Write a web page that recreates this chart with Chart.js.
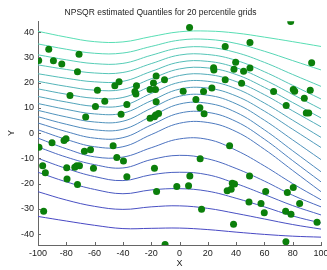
<!DOCTYPE html>
<html>
<head>
<meta charset="utf-8">
<script src="https://cdn.jsdelivr.net/npm/chart.js@4.4.1/dist/chart.umd.min.js"></script>
<style>
  html, body { margin: 0; padding: 0; background: #fff; }
  #wrap { width: 327px; height: 270px; }
</style>
</head>
<body>
<div id="wrap"><canvas id="quantChart" width="327" height="270"></canvas></div>
<script>
const xGrid = [-100, -80, -60, -40, -20, 0, 20, 40, 60, 80, 100];

// 19 quantile curves, top (highest) first
const quantileCurves = [
    [40.3, 38.0, 36.2, 36.1, 38.2, 40.1, 40.4, 39.6, 38.0, 36.2, 34.3],
    [35.3, 33.2, 31.6, 31.7, 34.3, 36.8, 37.1, 35.5, 32.4, 28.7, 25.0],
    [31.0, 29.0, 27.5, 27.6, 30.8, 33.7, 34.0, 31.9, 28.0, 23.2, 18.5],
    [27.0, 25.2, 23.8, 24.0, 27.5, 30.9, 31.1, 28.8, 24.3, 18.9, 13.5],
    [23.5, 21.7, 20.3, 20.5, 24.4, 28.1, 28.4, 25.9, 21.1, 15.3, 9.5],
    [20.5, 18.5, 17.0, 17.3, 21.5, 25.4, 25.8, 23.2, 18.1, 12.1, 6.0],
    [17.5, 15.4, 13.8, 14.1, 18.6, 22.8, 23.2, 20.4, 15.2, 8.8, 2.5],
    [14.5, 12.3, 10.6, 10.9, 15.7, 20.1, 20.5, 17.6, 11.9, 5.1, -1.7],
    [11.7, 9.4, 7.6, 7.9, 12.8, 17.4, 17.8, 14.7, 8.7, 1.5, -5.7],
    [9.0, 6.4, 4.4, 4.7, 9.8, 14.6, 15.0, 11.6, 5.1, -2.7, -10.5],
    [6.5, 3.5, 1.3, 1.5, 6.6, 11.5, 11.8, 8.2, 1.3, -7.0, -15.3],
    [4.0, 0.6, -2.0, -1.8, 3.2, 7.9, 8.2, 4.6, -2.4, -10.9, -19.3],
    [1.3, -2.5, -5.4, -5.4, -0.6, 3.9, 4.2, 0.6, -6.4, -14.8, -23.2],
    [-2.0, -6.2, -9.4, -9.5, -5.8, -2.3, -2.5, -6.8, -13.0, -20.0, -26.4],
    [-5.5, -9.5, -12.5, -13.8, -10.5, -8.8, -10.2, -14.0, -19.0, -24.6, -29.2],
    [-10.0, -14.0, -17.2, -18.8, -16.5, -15.5, -16.5, -20.0, -24.3, -28.7, -32.4],
    [-15.5, -19.3, -22.3, -24.0, -22.5, -22.0, -23.0, -25.8, -29.2, -32.8, -35.6],
    [-23.2, -26.5, -29.0, -30.2, -29.2, -28.8, -29.8, -31.8, -34.0, -36.2, -38.0],
    [-33.0, -34.8, -36.5, -37.8, -37.7, -37.6, -38.2, -39.2, -40.1, -40.8, -41.2]
];

// observed sample points
const dotX = [
    -99.5, -92.4, -89.1, -83.2, -71.0, -72.1, -77.4, -58.0, -59.4, -52.8,
    -66.3, -45.7, -42.7, -41.3, -37.2, -30.4, -31.5, -30.8, -20.8, -18.4,
    -16.5, -17.0, -10.6, -16.5, -20.8, -17.7, -16.8, -14.8, 2.6, 7.1,
    11.6, 14.4, 17.4, 17.0, 22.9, 24.1, 24.3, 32.3, 32.3, 39.7,
    38.5, 43.9, 45.3, 49.8, 49.8, 66.5, 75.4, 78.6, 80.4, 81.4,
    88.2, 93.4, 92.4, 89.6, 91.3,
    -99.3, -90.1, -81.6, -80.2, -96.7, -94.8, -79.7, -79.5, -74.0, -72.6,
    -70.7, -72.1, -67.2, -62.9, -60.8, -46.9, -44.3, -39.6, -37.2, -96.0,
    -17.7, -16.2, -1.9, 6.4, 7.3, 14.6, 15.6, -10.2, 35.4, 33.7,
    36.5, 37.3, 38.9, 38.2, 49.5, 49.1, 57.6, 59.9, 60.9, 75.0,
    76.2, 78.8, 80.4, 84.9, 97.2, 75.2
];
const dotY = [
    28.7, 33.2, 28.6, 27.4, 31.2, 24.3, 14.9, 17.0, 10.5, 12.6,
    6.4, 18.7, 20.3, 7.5, 11.3, 18.7, 16.5, 15.5, 17.3, 19.8,
    22.6, 17.3, 21.1, 12.4, 5.9, 6.5, 7.2, 7.8, 16.6, 41.8,
    13.3, 10.0, 7.7, 16.5, 17.9, 25.9, 25.0, 34.3, 21.1, 28.0,
    25.3, 19.7, 24.5, 35.9, 25.8, 16.5, 10.9, 44.2, 17.3, 16.6,
    13.8, 27.9, 17.0, 8.0, 8.0,
    -5.6, -3.8, -2.9, -2.2, -12.9, -15.7, -13.7, -18.2, -13.5, -12.9,
    -12.9, -20.3, -7.2, -6.6, -13.9, -5.0, -9.7, -11.0, -17.3, -30.9,
    -13.9, -23.1, -21.1, -20.8, -17.0, -10.2, -30.1, -44.1, -5.0, -22.8,
    -22.2, -19.9, -20.2, -36.1, -17.0, -27.3, -27.9, -31.5, -23.1, -30.9,
    -23.5, -32.1, -21.5, -27.9, -35.3, -43.0
];

const xTicks = [-100, -80, -60, -40, -20, 0, 20, 40, 60, 80, 100];
const yTicks = [-40, -30, -20, -10, 0, 10, 20, 30, 40];

// winter-like colour ramp: top curve aqua-green, bottom curve blue
function curveColor(i, n) {
    const t = i / (n - 1);
    const top = [88, 222, 180];
    const bot = [72, 72, 196];
    const c = top.map((v, k) => Math.round(v + (bot[k] - v) * t));
    return 'rgb(' + c.join(',') + ')';
}

const datasets = quantileCurves.map((row, i) => ({
    type: 'line',
    data: row.map((y, j) => ({ x: xGrid[j], y: y })),
    borderColor: curveColor(i, quantileCurves.length),
    borderWidth: 1,
    pointRadius: 0,
    tension: 0.4,
    fill: false,
    order: 1
}));

datasets.push({
    type: 'scatter',
    data: dotX.map((x, i) => ({ x: x, y: dotY[i] })),
    backgroundColor: '#0b7f0b',
    borderColor: '#0b7f0b',
    borderWidth: 0,
    pointRadius: 3.5,
    order: 0
});

// MATLAB style ticks pointing into the axes
const innerTicks = {
    id: 'innerTicks',
    afterDraw(chart) {
        const ctx = chart.ctx;
        const xs = chart.scales.x, ys = chart.scales.y;
        const a = chart.chartArea;
        ctx.save();
        ctx.strokeStyle = '#666';
        ctx.lineWidth = 1;
        ctx.beginPath();
        xTicks.forEach(v => {
            const px = Math.round(xs.getPixelForValue(v)) + 0.5;
            ctx.moveTo(px, a.bottom);
            ctx.lineTo(px, a.bottom - 3);
        });
        yTicks.forEach(v => {
            const py = Math.round(ys.getPixelForValue(v)) + 0.5;
            ctx.moveTo(a.left, py);
            ctx.lineTo(a.left + 3, py);
        });
        ctx.stroke();
        ctx.restore();
    }
};

const font = 'Liberation Sans, Arial, sans-serif';

new Chart(document.getElementById('quantChart'), {
    data: { datasets: datasets },
    options: {
        responsive: false,
        animation: false,
        devicePixelRatio: 1,
        layout: { padding: { left: 0, right: 6, top: 0, bottom: 0 } },
        plugins: {
            legend: { display: false },
            tooltip: { enabled: false },
            title: {
                display: true,
                text: 'NPSQR estimated Quantiles for 20 percentile grids',
                color: '#222',
                font: { family: font, size: 8.5, weight: 'normal' },
                padding: { top: 8, bottom: 3 }
            }
        },
        scales: {
            x: {
                type: 'linear',
                min: -100,
                max: 100,
                afterBuildTicks: s => { s.ticks = xTicks.map(v => ({ value: v })); },
                afterFit: s => { s.height = 25; s.paddingLeft = 0; s.paddingRight = 0; },
                grid: { display: true, drawOnChartArea: false, drawTicks: false },
                border: { display: true, color: '#666', width: 1 },
                ticks: { color: '#222', padding: 3, maxRotation: 0, font: { family: font, size: 9 } },
                title: { display: true, text: 'X', color: '#222', padding: { top: 0, bottom: 1 }, font: { family: font, size: 9 } }
            },
            y: {
                type: 'linear',
                min: -44.3,
                max: 44.3,
                afterBuildTicks: s => { s.ticks = yTicks.map(v => ({ value: v })); },
                afterFit: s => { s.width = 38; },
                grid: { display: true, drawOnChartArea: false, drawTicks: false },
                border: { display: true, color: '#666', width: 1 },
                ticks: { color: '#222', padding: 4, font: { family: font, size: 9 } },
                title: { display: true, text: 'Y', color: '#222', padding: { top: 6, bottom: 0 }, font: { family: font, size: 9 } }
            }
        }
    },
    plugins: [innerTicks]
});
</script>
</body>
</html>
